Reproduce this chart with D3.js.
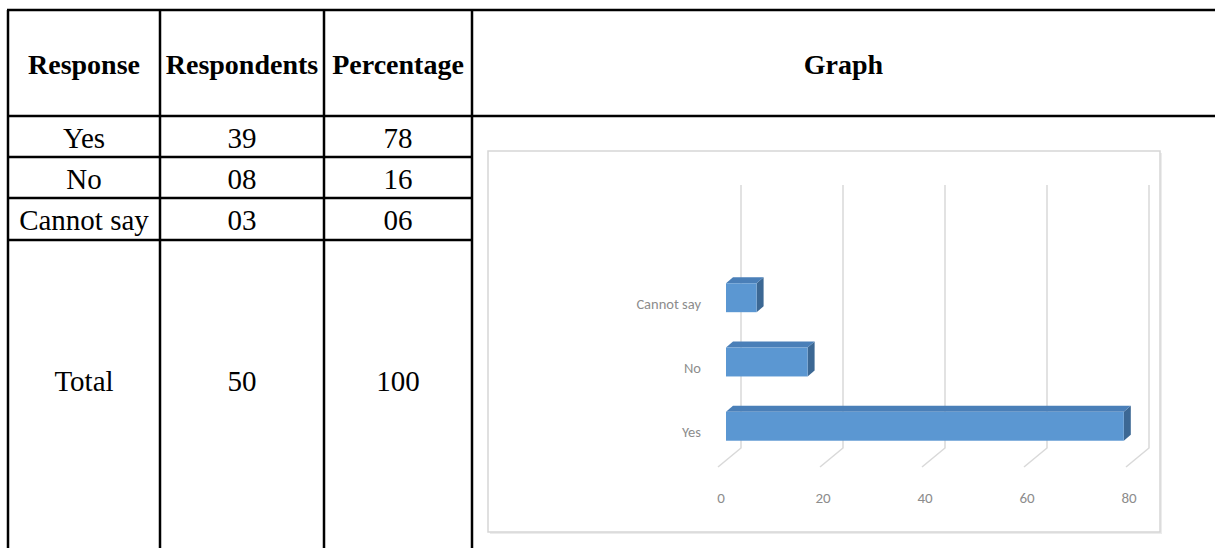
<!DOCTYPE html>
<html>
<head>
<meta charset="utf-8">
<script src="https://cdn.jsdelivr.net/npm/d3@7"></script>
<style>
  body { margin: 0; background: #fff; }
  svg { display: block; }
</style>
</head>
<body>
<svg id="page" width="1215" height="548"></svg>
<script>
// table contents
var headers = ["Response", "Respondents", "Percentage", "Graph"];
var responses = ["Yes", "No", "Cannot say"];
var respondents = ["39", "08", "03"];
var percentages = ["78", "16", "06"];
var totalRow = ["Total", "50", "100"];

// chart series (percentage per response)
var chartCategories = ["Yes", "No", "Cannot say"];
var chartValues = [78, 16, 6];
var xTicks = [0, 20, 40, 60, 80];

var svg = d3.select("#page");
var serif = "'Liberation Serif', 'Times New Roman', serif";
var sans = "Carlito, 'Open Sans', sans-serif";

// ---- table grid
var colX = [8, 160, 324, 472];
var rowY = [10, 116, 157, 198, 240];
var grid = svg.append("g");

function hline(x1, x2, y){
  grid.append("line")
    .attr("x1", x1).attr("x2", x2)
    .attr("y1", y).attr("y2", y)
    .attr("stroke", "#000").attr("stroke-width", 2.5);
}
// header lines run the full width, body rows stop at the graph cell
hline(colX[0] - 1, 1215, rowY[0]);
hline(colX[0] - 1, 1215, rowY[1]);
rowY.slice(2).forEach(function(y){ hline(colX[0] - 1, colX[3], y); });

colX.forEach(function(x){
  grid.append("line")
    .attr("x1", x).attr("x2", x)
    .attr("y1", rowY[0]).attr("y2", 548)
    .attr("stroke", "#000").attr("stroke-width", 2.5);
});

function cellText(xc, yc, txt, bold, size){
  svg.append("text")
    .attr("x", xc)
    .attr("y", yc)
    .attr("text-anchor", "middle")
    .attr("dominant-baseline", "central")
    .style("font-family", serif)
    .style("font-size", size + "px")
    .style("font-weight", bold ? "bold" : "normal")
    .text(txt);
}
function colMid(i){ return i < 3 ? (colX[i] + colX[i+1]) / 2 : (colX[3] + 1215) / 2; }

headers.forEach(function(h, i){
  cellText(colMid(i), 64, h, true, 28);
});
responses.forEach(function(r, i){
  var yc = (rowY[i+1] + rowY[i+2]) / 2 + 1;
  cellText(colMid(0), yc, r, false, 29);
  cellText(colMid(1), yc, respondents[i], false, 29);
  cellText(colMid(2), yc, percentages[i], false, 29);
});
totalRow.forEach(function(t, i){
  cellText(colMid(i), 381, t, false, 29);
});

// ---- bar chart (excel style 3d bars)
var frame = {x: 488, y: 151, w: 672, h: 381};
svg.append("rect")
  .attr("x", frame.x + 2).attr("y", frame.y + 2)
  .attr("width", frame.w).attr("height", frame.h)
  .attr("fill", "#ececec");
svg.append("rect")
  .attr("x", frame.x).attr("y", frame.y)
  .attr("width", frame.w).attr("height", frame.h)
  .attr("fill", "#fff")
  .attr("stroke", "#d6d6d6").attr("stroke-width", 1.5);

var depthX = 23, depthY = -19;   // back wall offset
var floorY = 467;

var xScale = d3.scaleLinear().domain([0, 80]).range([718, 1126]);
var yScale = d3.scaleBand()
  .domain(chartCategories)
  .range([460, 264])
  .paddingInner(0.55)
  .paddingOuter(0.3);

var chart = svg.append("g");

// gridlines on back wall plus floor diagonal
chart.selectAll(".gridline")
  .data(xTicks)
  .enter().append("path")
  .attr("class", "gridline")
  .attr("fill", "none")
  .attr("stroke", "#d9d9d9")
  .attr("stroke-width", 1.5)
  .attr("d", function(d){
    var bx = xScale(d) + depthX;
    return "M" + bx + ",185 L" + bx + "," + (floorY + depthY) +
      " L" + xScale(d) + "," + floorY;
  });

// x tick labels
chart.selectAll(".tick-label")
  .data(xTicks)
  .enter().append("text")
  .attr("class", "tick-label")
  .attr("x", function(d){ return xScale(d) + 3; })
  .attr("y", 498)
  .attr("text-anchor", "middle")
  .attr("dominant-baseline", "central")
  .style("font-family", sans)
  .style("font-size", "15px")
  .style("fill", "#8c8c8c")
  .text(function(d){ return d; });

// category labels
chart.selectAll(".cat-label")
  .data(chartCategories)
  .enter().append("text")
  .attr("class", "cat-label")
  .attr("x", 701)
  .attr("y", function(d){ return yScale(d) + yScale.bandwidth() / 2 + 6; })
  .attr("text-anchor", "end")
  .attr("dominant-baseline", "central")
  .style("font-family", sans)
  .style("font-size", "14.5px")
  .style("fill", "#8c8c8c")
  .text(function(d){ return d; });

// bars: front face, top face, side face
var bx0 = 726, dx = 7, dy = -6;
var bars = chart.selectAll(".bar")
  .data(chartCategories.map(function(c, i){ return {cat: c, val: chartValues[i]}; }))
  .enter().append("g").attr("class", "bar");

bars.append("path")
  .attr("fill", "#3c6894")
  .attr("d", function(d){
    var x1 = xScale(d.val) + 8, y0 = yScale(d.cat), y1 = y0 + yScale.bandwidth();
    return "M" + x1 + "," + y0 + " L" + (x1 + dx) + "," + (y0 + dy) +
      " L" + (x1 + dx) + "," + (y1 + dy) + " L" + x1 + "," + y1 + "Z";
  });
bars.append("path")
  .attr("fill", "#4a7fb8")
  .attr("d", function(d){
    var x1 = xScale(d.val) + 8, y0 = yScale(d.cat);
    return "M" + bx0 + "," + y0 + " L" + (bx0 + dx) + "," + (y0 + dy) +
      " L" + (x1 + dx) + "," + (y0 + dy) + " L" + x1 + "," + y0 + "Z";
  });
bars.append("rect")
  .attr("x", bx0)
  .attr("y", function(d){ return yScale(d.cat); })
  .attr("width", function(d){ return xScale(d.val) + 8 - bx0; })
  .attr("height", yScale.bandwidth())
  .attr("fill", "#5b97d2");
</script>
</body>
</html>
